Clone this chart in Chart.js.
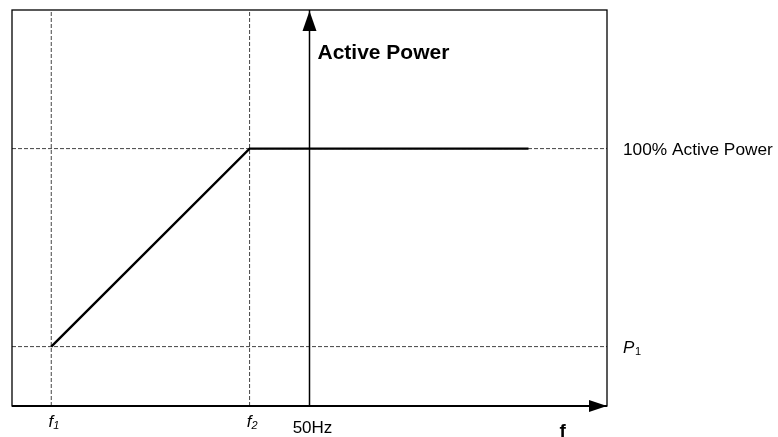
<!DOCTYPE html>
<html>
<head>
<meta charset="utf-8">
<script src="https://cdn.jsdelivr.net/npm/chart.js@4"></script>
<style>
  body { margin: 0; background: #fff; }
  #wrap { width: 778px; height: 437px; }
</style>
</head>
<body>
<div id="wrap"><canvas id="chart" width="778" height="437"></canvas></div>
<script>
// frequency axis (Hz) and active power axis (%)
const freqRange = [47.12, 52.88];
const powerRange = [-4, 156];
const nominalFreq = 50;
const markFreqs = [47.5, 49.42];
const markLabels = ['f', 'f'];
const markSubs = ['1', '2'];
const curveFreq = [47.5, 49.42, 52.12];
const curvePower = [20, 100, 100];
const powerLevels = [100, 20];

const dashStyle = { borderColor: '#444', borderWidth: 1, borderDash: [4, 2], pointRadius: 0, showLine: true, fill: false };

const datasets = [];
datasets.push({
    data: curveFreq.map((f, i) => ({ x: f, y: curvePower[i] })),
    borderColor: '#000', borderWidth: 2.4, pointRadius: 0, showLine: true, fill: false
});
datasets.push({
    data: [{ x: nominalFreq, y: powerRange[0] }, { x: nominalFreq, y: powerRange[1] }],
    borderColor: '#000', borderWidth: 1.5, pointRadius: 0, showLine: true, fill: false
});
powerLevels.forEach(p => {
    datasets.push(Object.assign({ data: [{ x: freqRange[0], y: p }, { x: freqRange[1], y: p }] }, dashStyle));
});
markFreqs.forEach(f => {
    datasets.push(Object.assign({ data: [{ x: f, y: powerRange[0] }, { x: f, y: powerRange[1] }] }, dashStyle));
});

const decor = {
    id: 'decor',
    afterDatasetsDraw(chart) {
        const ctx = chart.ctx;
        const a = chart.chartArea;
        const xs = chart.scales.x, ys = chart.scales.y;
        ctx.save();
        ctx.strokeStyle = '#000';
        ctx.fillStyle = '#000';

        // frame
        ctx.lineWidth = 1.3;
        ctx.strokeRect(a.left, a.top, a.right - a.left, a.bottom - a.top);
        ctx.lineWidth = 2;
        ctx.beginPath();
        ctx.moveTo(a.left, a.bottom);
        ctx.lineTo(a.right, a.bottom);
        ctx.stroke();

        // arrow heads
        const x50 = xs.getPixelForValue(nominalFreq);
        ctx.beginPath();
        ctx.moveTo(x50, a.top + 1);
        ctx.lineTo(x50 - 7, a.top + 21);
        ctx.lineTo(x50 + 7, a.top + 21);
        ctx.closePath();
        ctx.fill();
        ctx.beginPath();
        ctx.moveTo(a.right, a.bottom);
        ctx.lineTo(a.right - 18, a.bottom - 6);
        ctx.lineTo(a.right - 18, a.bottom + 6);
        ctx.closePath();
        ctx.fill();

        ctx.textBaseline = 'alphabetic';
        // y axis title
        ctx.font = 'bold 21px "Liberation Sans", Arial, sans-serif';
        ctx.textAlign = 'left';
        ctx.fillText('Active Power', x50 + 8, 59);

        // x axis title
        ctx.font = 'bold 19px "Liberation Sans", Arial, sans-serif';
        ctx.textAlign = 'center';
        ctx.fillText('f', xs.getPixelForValue(52.45), 437);

        // frequency marks
        markFreqs.forEach((f, i) => {
            const px = xs.getPixelForValue(f);
            ctx.font = 'italic 17px "Liberation Sans", Arial, sans-serif';
            ctx.textAlign = 'right';
            ctx.fillText(markLabels[i], px + 2, 427);
            ctx.font = 'italic 11px "Liberation Sans", Arial, sans-serif';
            ctx.textAlign = 'left';
            ctx.fillText(markSubs[i], px + 2, 429);
        });
        ctx.font = '17px "Liberation Sans", Arial, sans-serif';
        ctx.textAlign = 'center';
        ctx.fillText(nominalFreq + 'Hz', x50 + 3, 433);

        // power levels
        ctx.textAlign = 'left';
        ctx.font = '17.3px "Liberation Sans", Arial, sans-serif';
        ctx.fillText(powerLevels[0] + '% Active Power', a.right + 16, ys.getPixelForValue(powerLevels[0]) + 6);
        const yp1 = ys.getPixelForValue(powerLevels[1]);
        ctx.font = 'italic 17px "Liberation Sans", Arial, sans-serif';
        ctx.fillText('P', a.right + 16, yp1 + 6);
        ctx.font = '11px "Liberation Sans", Arial, sans-serif';
        ctx.fillText('1', a.right + 28, yp1 + 8);
        ctx.restore();
    }
};

new Chart(document.getElementById('chart'), {
    type: 'scatter',
    data: { datasets: datasets },
    options: {
        responsive: false,
        animation: false,
        layout: { padding: { left: 12, top: 10, right: 171, bottom: 31 } },
        plugins: { legend: { display: false }, tooltip: { enabled: false } },
        scales: {
            x: { type: 'linear', min: freqRange[0], max: freqRange[1], display: false },
            y: { type: 'linear', min: powerRange[0], max: powerRange[1], display: false }
        }
    },
    plugins: [decor]
});
</script>
</body>
</html>
